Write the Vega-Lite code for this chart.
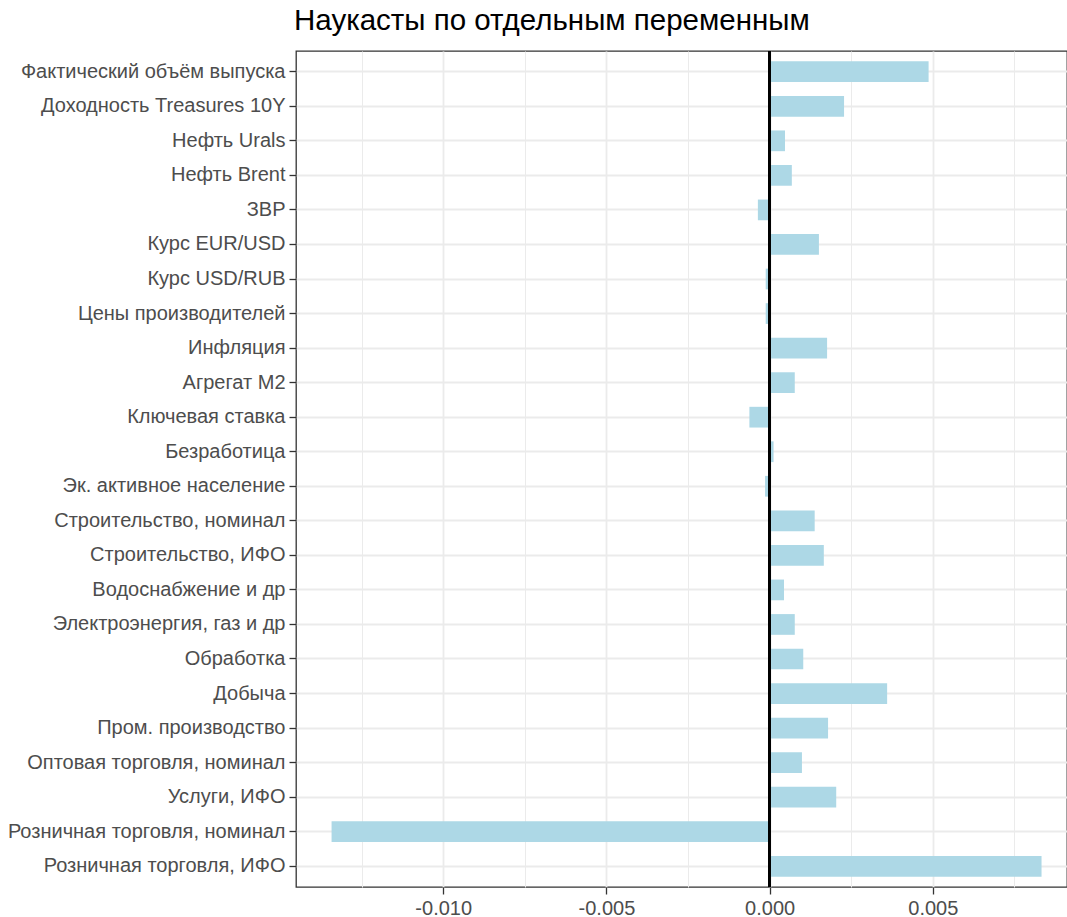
{
  "$schema": "https://vega.github.io/schema/vega-lite/v6.json",
  "autosize": {"type": "none"},
  "padding": {"left": 296, "top": 51, "right": 0, "bottom": 30},
  "width": 771,
  "height": 836,
  "background": "white",
  "title": {
    "text": "Наукасты по отдельным переменным",
    "anchor": "start",
    "frame": "group",
    "font": "Liberation Sans",
    "fontSize": 29.5,
    "fontWeight": "normal",
    "color": "#000000",
    "baseline": "alphabetic",
    "offset": 19,
    "dy": 28,
    "dx": -2
  },
  "config": {
    "view": {"stroke": "#333333", "strokeWidth": 1.3},
    "font": "Liberation Sans"
  },
  "data": {
    "values": [
      {"variable": "Фактический объём выпуска", "value": 0.00487},
      {"variable": "Доходность Treasures 10Y", "value": 0.00228},
      {"variable": "Нефть Urals", "value": 0.00047},
      {"variable": "Нефть Brent", "value": 0.00068},
      {"variable": "ЗВР", "value": -0.00036},
      {"variable": "Курс EUR/USD", "value": 0.00151},
      {"variable": "Курс USD/RUB", "value": -0.00012},
      {"variable": "Цены производителей", "value": -0.00012},
      {"variable": "Инфляция", "value": 0.00176},
      {"variable": "Агрегат M2", "value": 0.00077},
      {"variable": "Ключевая ставка", "value": -0.00062},
      {"variable": "Безработица", "value": 0.00012},
      {"variable": "Эк. активное население", "value": -0.00014},
      {"variable": "Строительство, номинал", "value": 0.00138},
      {"variable": "Строительство, ИФО", "value": 0.00166},
      {"variable": "Водоснабжение и др", "value": 0.00044},
      {"variable": "Электроэнергия, газ и др", "value": 0.00077},
      {"variable": "Обработка", "value": 0.00103},
      {"variable": "Добыча", "value": 0.0036},
      {"variable": "Пром. производство", "value": 0.00179},
      {"variable": "Оптовая торговля, номинал", "value": 0.00099},
      {"variable": "Услуги, ИФО", "value": 0.00204},
      {"variable": "Розничная торговля, номинал", "value": -0.01342},
      {"variable": "Розничная торговля, ИФО", "value": 0.00833}
    ]
  },
  "layer": [
    {
      "mark": {"type": "bar", "color": "#ADD8E6"},
      "encoding": {
        "y": {
          "field": "variable",
          "type": "nominal",
          "sort": null,
          "title": null,
          "scale": {"paddingInner": 0.4, "paddingOuter": 0.3},
          "axis": {
            "domain": false,
            "grid": true,
            "gridColor": "#EBEBEB",
            "gridWidth": 1.8,
            "labelFont": "Liberation Sans",
            "labelFontSize": 20,
            "labelColor": "#4D4D4D",
            "labelLimit": 400,
            "labelPadding": 4,
            "tickColor": "#333333",
            "tickSize": 7,
            "tickWidth": 1.3
          }
        },
        "x": {
          "field": "value",
          "type": "quantitative",
          "title": null,
          "scale": {"domain": [-0.01451, 0.00911], "nice": false, "zero": false},
          "axis": {
            "domain": false,
            "values": [-0.0125, -0.01, -0.0075, -0.005, -0.0025, 0, 0.0025, 0.005, 0.0075],
            "labelExpr": "abs(datum.value*200 - round(datum.value*200)) > 0.01 ? '' : replace(format(datum.value, '.3f'), '−', '-')",
            "grid": true,
            "gridColor": "#EBEBEB",
            "gridWidth": {"condition": {"test": "abs(datum.value*200 - round(datum.value*200)) > 0.01", "value": 1}, "value": 1.8},
            "tickColor": {"condition": {"test": "abs(datum.value*200 - round(datum.value*200)) > 0.01", "value": "transparent"}, "value": "#333333"},
            "tickSize": 7,
            "tickWidth": 1.3,
            "labelFont": "Liberation Sans",
            "labelFontSize": 20,
            "labelColor": "#4D4D4D",
            "labelPadding": 4
          }
        }
      }
    },
    {
      "mark": {"type": "rule", "color": "#000000", "strokeWidth": 1.8},
      "encoding": {"x": {"datum": 0}}
    }
  ]
}
